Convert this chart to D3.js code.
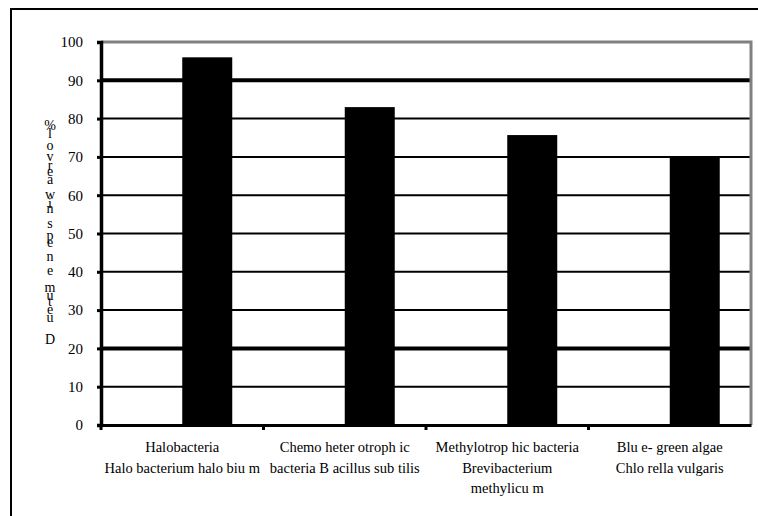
<!DOCTYPE html>
<html>
<head>
<meta charset="utf-8">
<script src="https://cdn.jsdelivr.net/npm/d3@7/dist/d3.min.js"></script>
<style>
  html, body { margin: 0; padding: 0; background: #fff; }
  svg { display: block; }
  text { font-family: "Liberation Serif", "Times New Roman", serif; fill: #000; }
</style>
</head>
<body>
<script>
// ---- data ----
const categories = [
  "Halobacteria Halobacterium halobium",
  "Chemoheterotrophic bacteria Bacillus subtilis",
  "Methylotrophic bacteria Brevibacterium methylicum",
  "Blue-green algae Chlorella vulgaris"
];
const categoryLabelLines = [
  ["Halobacteria", "Halo bacterium  halo biu m"],
  ["Chemo heter otroph ic", "bacteria B acillus  sub tilis"],
  ["Methylotrop hic  bacteria", "Brevibacterium", "methylicu m"],
  ["Blu e- green  algae", "Chlo rella  vulgaris"]
];
// two series slots per category; the first one carries no values
const seriesSlots = ["reserved", "measured"];
const values = [96, 83, 75.7, 70];
const yTicks = [0, 10, 20, 30, 40, 50, 60, 70, 80, 90, 100];
const yTitleGlyphs = ["%", "l", "o", "v", "r", "e", "a", "w", "i", "n", "s", "p", "e", "n", "e", "m", "u", "t", "e", "u", "D"];

// ---- layout ----
const W = 758, H = 516;
const plot = { left: 101, right: 751, top: 42, bottom: 425 };
// vertical placement of each stacked glyph of the axis title
const glyphY = [125, 133, 145, 156, 165, 171, 179, 194, 203, 208, 223, 235, 242, 256, 270, 287, 295, 301, 309, 317, 339];
const heavyGrid = new Set([20, 90]);

const svg = d3.select("body").append("svg")
  .attr("width", W).attr("height", H);

// outer frame (top and left edges visible)
svg.append("path")
  .attr("d", `M11,${H + 5} L11,9 L${W + 5},9`)
  .attr("fill", "none").attr("stroke", "#000").attr("stroke-width", 2);

const x0 = d3.scaleBand().domain(categories).range([plot.left, plot.right]).paddingInner(0).paddingOuter(0);
const x1 = d3.scaleBand().domain(seriesSlots).range([0, x0.bandwidth()]).paddingInner(0).paddingOuter(0.625);
const y = d3.scaleLinear().domain([0, 100]).range([plot.bottom, plot.top]);

// gridlines
svg.append("g").selectAll("line")
  .data(yTicks.filter(t => t > 0 && t < 100))
  .join("line")
  .attr("x1", plot.left).attr("x2", plot.right)
  .attr("y1", d => y(d)).attr("y2", d => y(d))
  .attr("stroke", "#000")
  .attr("stroke-width", d => heavyGrid.has(d) ? 4 : 2);

// plot border (top and right), grey
svg.append("path")
  .attr("d", `M${plot.left},${y(100)} L${plot.right},${y(100)} L${plot.right},${plot.bottom}`)
  .attr("fill", "none").attr("stroke", "#808080").attr("stroke-width", 3);

// bars
svg.append("g").selectAll("rect")
  .data(values)
  .join("rect")
  .attr("x", (d, i) => x0(categories[i]) + x1("measured"))
  .attr("width", x1.bandwidth())
  .attr("y", d => y(d))
  .attr("height", d => y(0) - y(d))
  .attr("fill", "#000");

// y axis
const yAxis = d3.axisLeft(y).tickValues(yTicks).tickSize(4).tickPadding(14);
const gy = svg.append("g").attr("transform", `translate(${plot.left},0)`).call(yAxis);
gy.select(".domain").attr("stroke", "#000").attr("stroke-width", 3.5);
gy.selectAll(".tick line").attr("stroke", "#000").attr("stroke-width", 3);
gy.selectAll(".tick text")
  .style("font-family", "Liberation Serif, serif")
  .style("font-size", "15px")
  .attr("fill", "#000");

// x axis
const xAxis = d3.axisBottom(x0).tickValues([]).tickSizeOuter(0);
const gx = svg.append("g").attr("transform", `translate(0,${plot.bottom})`).call(xAxis);
gx.select(".domain").attr("stroke", "#000").attr("stroke-width", 3);
// tick marks at category boundaries
gx.selectAll("line.boundary")
  .data(categories)
  .join("line")
  .attr("class", "boundary")
  .attr("x1", d => x0(d)).attr("x2", d => x0(d))
  .attr("y1", 0).attr("y2", 5)
  .attr("stroke", "#000").attr("stroke-width", 3);

// category labels
const labels = svg.append("g");
categories.forEach((c, i) => {
  const cx = x0(c) + x0.bandwidth() / 2;
  const t = labels.append("text")
    .attr("x", cx)
    .attr("text-anchor", "middle")
    .style("font-size", "14.5px");
  categoryLabelLines[i].forEach((line, k) => {
    t.append("tspan")
      .attr("x", cx)
      .attr("y", 452 + k * 20.5)
      .text(line);
  });
});

// stacked-glyph axis title, one text element with a tspan per glyph
svg.append("text")
  .attr("text-anchor", "middle")
  .style("font-size", "14px")
  .selectAll("tspan")
  .data(yTitleGlyphs)
  .join("tspan")
  .attr("x", 50)
  .attr("y", (d, i) => glyphY[i] + 5)
  .text(d => d);
</script>
</body>
</html>
